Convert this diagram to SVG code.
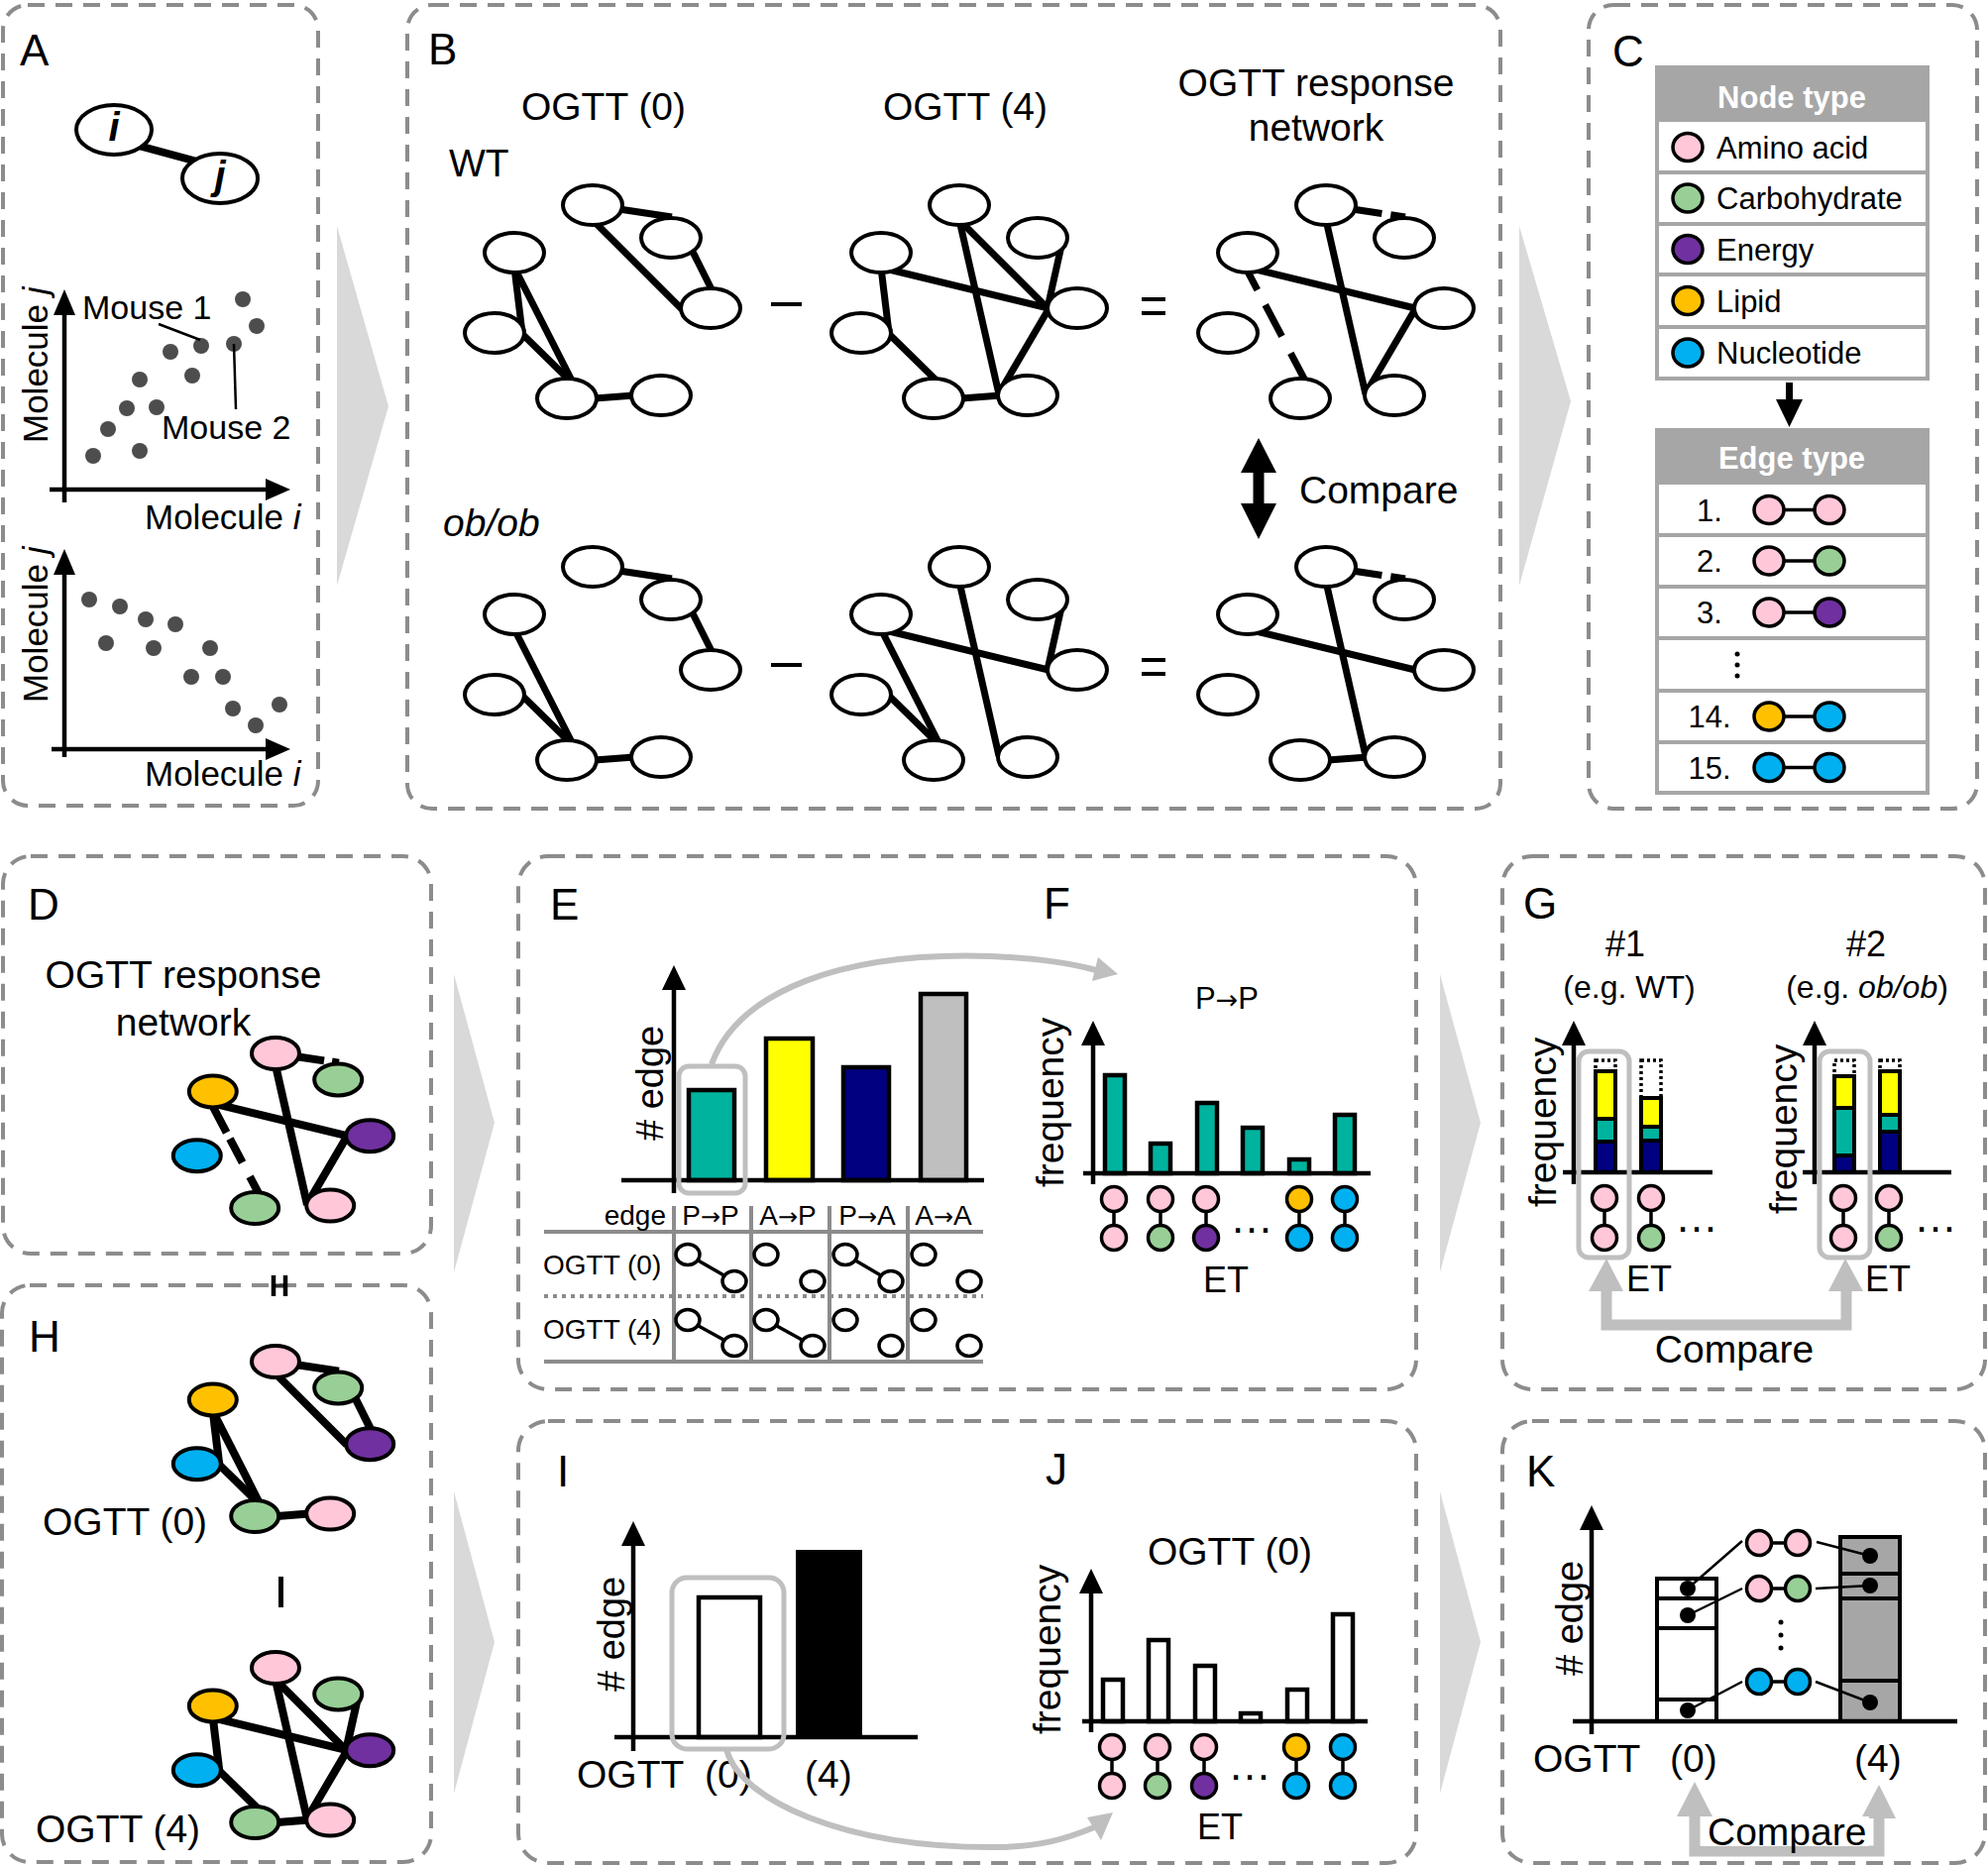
<svg xmlns="http://www.w3.org/2000/svg" width="2006" height="1882" viewBox="0 0 2006 1882">
<style>
.t{font-family:'Liberation Sans',Arial,Helvetica,sans-serif;fill:#000}
.ar{font-family:'DejaVu Sans','Liberation Sans',sans-serif}
.L{font-size:44px}
.M{font-size:39px}
.S{font-size:31px}
.X{font-size:28px}
.it{font-style:italic}
.bx{fill:none;stroke:#8c8c8c;stroke-width:4;stroke-dasharray:17 11}
.chev{fill:#d9d9d9}
.nd{fill:#fff;stroke:#000;stroke-width:4}
.n5{stroke:#000;stroke-width:5}
.e{fill:none;stroke:#000;stroke-width:7}
.e10{fill:none;stroke:#000;stroke-width:10}
.ax{fill:none;stroke:#000;stroke-width:4.5}
.hl{fill:none;stroke:#bfbfbf;stroke-width:5}
.c{stroke:#000;stroke-width:3.5}
.pk{fill:#ffc7d8}.gr{fill:#98cf96}.pu{fill:#7030a0}.ye{fill:#ffc000}.bl{fill:#00b0f0}.wh{fill:#fff}
.bar{stroke:#000;stroke-width:4.5}
.seg{stroke:#000;stroke-width:4}
.dt{fill:none;stroke:#000;stroke-width:3.5;stroke-dasharray:3 3}
.dot{fill:#4d4d4d}
.gl{fill:none;stroke:#8c8c8c;stroke-width:4}
.thin{stroke:#000;stroke-width:2.5}
.garr{fill:none;stroke:#bfbfbf;stroke-width:11}
</style>

<!-- ===== panel frames and chevrons ===== -->
<g id="frames">
<rect class="bx" x="3" y="5" width="318" height="808" rx="25"/>
<rect class="bx" x="411" y="5" width="1103" height="811" rx="25"/>
<rect class="bx" x="1603" y="5" width="392" height="811" rx="25"/>
<rect class="bx" x="3" y="864" width="432" height="401" rx="28"/>
<rect class="bx" x="2" y="1297" width="433" height="582" rx="28"/>
<rect class="bx" x="523" y="864" width="906" height="538" rx="30"/>
<rect class="bx" x="1516" y="864" width="487" height="538" rx="30"/>
<rect class="bx" x="523" y="1434" width="906" height="446" rx="30"/>
<rect class="bx" x="1516" y="1434" width="487" height="446" rx="30"/>
<polygon class="chev" points="340,228 392,410 340,591"/>
<polygon class="chev" points="1533,228 1585,405 1533,591"/>
<polygon class="chev" points="458,983 499,1133 458,1284"/>
<polygon class="chev" points="1453,983 1494,1133 1453,1284"/>
<polygon class="chev" points="458,1505 499,1657 458,1810"/>
<polygon class="chev" points="1453,1505 1494,1657 1453,1810"/>
</g>

<!-- ===== panel labels ===== -->
<g id="panel-labels" class="t L">
<text x="20" y="66">A</text>
<text x="432" y="65">B</text>
<text x="1627" y="67">C</text>
<text x="28" y="928">D</text>
<text x="555" y="928">E</text>
<text x="1053" y="927">F</text>
<text x="1537" y="927">G</text>
<text x="29" y="1364">H</text>
<text x="562" y="1500">I</text>
<text x="1055" y="1498">J</text>
<text x="1540" y="1500">K</text>
</g>

<!-- ===== Panel A ===== -->
<g id="panel-A-content">
<line class="ax" x1="65" y1="507" x2="65" y2="312"/>
<polygon points="65,292 54,318 76,318"/>
<line class="ax" x1="50" y1="494" x2="272" y2="494"/>
<polygon points="293,494 268,483 268,505"/>
<line class="ax" x1="65" y1="764" x2="65" y2="574"/>
<polygon points="65,554 54,580 76,580"/>
<line class="ax" x1="52" y1="756" x2="272" y2="756"/>
<polygon points="293,756 268,745 268,767"/>
<g class="dot">
<circle cx="245" cy="302" r="8"/><circle cx="259" cy="329" r="8"/><circle cx="203" cy="349" r="8"/><circle cx="236" cy="347" r="8"/>
<circle cx="172" cy="355" r="8"/><circle cx="194" cy="379" r="8"/><circle cx="141" cy="383" r="8"/><circle cx="128" cy="412" r="8"/>
<circle cx="158" cy="411" r="8"/><circle cx="109" cy="433" r="8"/><circle cx="141" cy="455" r="8"/><circle cx="94" cy="460" r="8"/>
<circle cx="90" cy="605" r="8"/><circle cx="121" cy="612" r="8"/><circle cx="147" cy="625" r="8"/><circle cx="177" cy="630" r="8"/>
<circle cx="107" cy="649" r="8"/><circle cx="155" cy="654" r="8"/><circle cx="212" cy="654" r="8"/><circle cx="193" cy="683" r="8"/>
<circle cx="225" cy="683" r="8"/><circle cx="235" cy="715" r="8"/><circle cx="282" cy="711" r="8"/><circle cx="258" cy="732" r="8"/>
</g>
<text class="t" font-size="34" x="83" y="322">Mouse 1</text>
<text class="t" font-size="34" x="163" y="443">Mouse 2</text>
<text class="t" font-size="35" x="146" y="534">Molecule <tspan class="it">i</tspan></text>
<text class="t" font-size="35" x="146" y="793">Molecule <tspan class="it">i</tspan></text>
<text class="t" font-size="35" transform="translate(48,447) rotate(-90)">Molecule <tspan class="it">j</tspan></text>
<text class="t" font-size="35" transform="translate(48,709) rotate(-90)">Molecule <tspan class="it">j</tspan></text>
</g>

<!-- ===== Panel B texts ===== -->
<g id="panel-B-content" class="t M">
<text x="609" y="121" text-anchor="middle">OGTT (0)</text>
<text x="974" y="121" text-anchor="middle">OGTT (4)</text>
<text x="1328" y="97" text-anchor="middle">OGTT response</text>
<text x="1328" y="142" text-anchor="middle">network</text>
<text x="453" y="178">WT</text>
<text x="447" y="541" class="it">ob/ob</text>
<text x="1311" y="508">Compare</text>
<g stroke="#000" stroke-width="4">
<line x1="778" y1="307" x2="809" y2="307"/>
<line x1="778" y1="671" x2="809" y2="671"/>
<line x1="1152" y1="302" x2="1176" y2="302"/>
<line x1="1152" y1="316" x2="1176" y2="316"/>
<line x1="1152" y1="666" x2="1176" y2="666"/>
<line x1="1152" y1="680" x2="1176" y2="680"/>
</g>
<polygon points="1270,442 1288,477 1275.5,477 1275.5,508 1288,508 1270,544 1252,508 1264.5,508 1264.5,477 1252,477"/>
</g>

<!-- ===== Panel C ===== -->
<g id="panel-C-content">
<g id="node-type-table">
<rect x="1670" y="66" width="277" height="57" fill="#a6a6a6"/>
<rect x="1672" y="68" width="273" height="314" fill="none" stroke="#a6a6a6" stroke-width="4"/>
<g stroke="#a6a6a6" stroke-width="4">
<line x1="1672" y1="174" x2="1945" y2="174"/><line x1="1672" y1="226" x2="1945" y2="226"/>
<line x1="1672" y1="277" x2="1945" y2="277"/><line x1="1672" y1="330" x2="1945" y2="330"/>
</g>
<text class="t" font-size="31" font-weight="bold" style="fill:#fff" x="1808" y="109" text-anchor="middle">Node type</text>
<ellipse class="c pk" cx="1703" cy="148.5" rx="15" ry="14"/>
<ellipse class="c gr" cx="1703" cy="200" rx="15" ry="14"/>
<ellipse class="c pu" cx="1703" cy="251.5" rx="15" ry="14"/>
<ellipse class="c ye" cx="1703" cy="303.5" rx="15" ry="14"/>
<ellipse class="c bl" cx="1703" cy="356" rx="15" ry="14"/>
<g class="t S">
<text x="1732" y="160">Amino acid</text>
<text x="1732" y="211">Carbohydrate</text>
<text x="1732" y="263">Energy</text>
<text x="1732" y="315">Lipid</text>
<text x="1732" y="367">Nucleotide</text>
</g>
</g>
<rect x="1802" y="386" width="7" height="19"/>
<polygon points="1792,403 1819,403 1805.5,431"/>
<g id="edge-type-table">
<rect x="1670" y="432" width="277" height="57" fill="#a6a6a6"/>
<rect x="1672" y="434" width="273" height="366" fill="none" stroke="#a6a6a6" stroke-width="4"/>
<g stroke="#a6a6a6" stroke-width="4">
<line x1="1672" y1="540" x2="1945" y2="540"/><line x1="1672" y1="592" x2="1945" y2="592"/>
<line x1="1672" y1="644" x2="1945" y2="644"/><line x1="1672" y1="697" x2="1945" y2="697"/>
<line x1="1672" y1="749" x2="1945" y2="749"/>
</g>
<text class="t" font-size="31" font-weight="bold" style="fill:#fff" x="1808" y="473" text-anchor="middle">Edge type</text>
<g class="t S" text-anchor="middle">
<text x="1725" y="526">1.</text><text x="1725" y="577">2.</text><text x="1725" y="629">3.</text>
<text x="1725" y="734">14.</text><text x="1725" y="786">15.</text>
</g>
<g stroke="#000" stroke-width="3.5">
<line x1="1800" y1="514.5" x2="1831" y2="514.5"/><line x1="1800" y1="566" x2="1831" y2="566"/>
<line x1="1800" y1="618" x2="1831" y2="618"/><line x1="1800" y1="723" x2="1831" y2="723"/>
<line x1="1800" y1="774.5" x2="1831" y2="774.5"/>
</g>
<ellipse class="c pk" cx="1785" cy="514.5" rx="15" ry="14"/><ellipse class="c pk" cx="1846" cy="514.5" rx="15" ry="14"/>
<ellipse class="c pk" cx="1785" cy="566" rx="15" ry="14"/><ellipse class="c gr" cx="1846" cy="566" rx="15" ry="14"/>
<ellipse class="c pk" cx="1785" cy="618" rx="15" ry="14"/><ellipse class="c pu" cx="1846" cy="618" rx="15" ry="14"/>
<ellipse class="c ye" cx="1785" cy="723" rx="15" ry="14"/><ellipse class="c bl" cx="1846" cy="723" rx="15" ry="14"/>
<ellipse class="c bl" cx="1785" cy="774.5" rx="15" ry="14"/><ellipse class="c bl" cx="1846" cy="774.5" rx="15" ry="14"/>
<circle cx="1753" cy="660" r="2.5"/><circle cx="1753" cy="671" r="2.5"/><circle cx="1753" cy="682" r="2.5"/>
</g>
</g>

<!-- ===== Panel D / H texts ===== -->
<g id="panel-DH-content" class="t M">
<text x="185" y="997" text-anchor="middle">OGTT response</text>
<text x="185" y="1045" text-anchor="middle">network</text>
<text x="43" y="1549">OGTT (0)</text>
<text x="36" y="1859">OGTT (4)</text>
<line x1="274" y1="1297.5" x2="290" y2="1297.5" stroke="#333" stroke-width="4"/>
<g stroke="#000" stroke-width="4.5">
<line x1="276" y1="1287" x2="276" y2="1308"/>
<line x1="288" y1="1287" x2="288" y2="1308"/>
<line x1="283.5" y1="1591" x2="283.5" y2="1622" stroke-width="5"/>
</g>
</g>

<!-- ===== Panel E ===== -->
<g id="panel-E-content">
<line class="ax" x1="680" y1="1204" x2="680" y2="995"/>
<polygon points="680,974 668,999 692,999"/>
<rect class="bar" x="695" y="1100" width="46" height="91" fill="#00b39f"/>
<rect class="bar" x="773" y="1048" width="47" height="143" fill="#ffff00"/>
<rect class="bar" x="851" y="1077" width="46" height="114" fill="#000080"/>
<rect class="bar" x="929" y="1003" width="46" height="188" fill="#bfbfbf"/>
<line class="ax" x1="627" y1="1191" x2="993" y2="1191"/>
<rect class="hl" x="685" y="1076" width="67" height="128" rx="10"/>
<text class="t" font-size="38" transform="translate(669,1151) rotate(-90)"># edge</text>
<line class="gl" x1="549" y1="1243" x2="992" y2="1243"/>
<line class="gl" x1="549" y1="1374" x2="992" y2="1374"/>
<line x1="549" y1="1308" x2="992" y2="1308" stroke="#8c8c8c" stroke-width="4" stroke-dasharray="4 5"/>
<line class="gl" x1="680" y1="1217" x2="680" y2="1374"/>
<line class="gl" x1="758" y1="1217" x2="758" y2="1374"/>
<line class="gl" x1="837" y1="1217" x2="837" y2="1374"/>
<line class="gl" x1="916" y1="1217" x2="916" y2="1374"/>
<g class="t X">
<text x="672" y="1236" text-anchor="end">edge</text>
<text x="717" y="1236" text-anchor="middle">P<tspan class="ar" font-size="24">→</tspan>P</text>
<text x="795" y="1236" text-anchor="middle">A<tspan class="ar" font-size="24">→</tspan>P</text>
<text x="875" y="1236" text-anchor="middle">P<tspan class="ar" font-size="24">→</tspan>A</text>
<text x="952" y="1236" text-anchor="middle">A<tspan class="ar" font-size="24">→</tspan>A</text>
<text x="548" y="1286">OGTT (0)</text>
<text x="548" y="1351">OGTT (4)</text>
</g>
<g stroke="#000" stroke-width="3.5">
<line x1="694" y1="1266" x2="741" y2="1293"/>
<line x1="853" y1="1266" x2="899" y2="1293"/>
<line x1="694" y1="1332" x2="741" y2="1358"/>
<line x1="773" y1="1332" x2="820" y2="1358"/>
</g>
<g fill="#fff" stroke="#000" stroke-width="3.5">
<ellipse cx="694" cy="1266" rx="12" ry="10.5"/><ellipse cx="741" cy="1293" rx="12" ry="10.5"/>
<ellipse cx="773" cy="1266" rx="12" ry="10.5"/><ellipse cx="820" cy="1293" rx="12" ry="10.5"/>
<ellipse cx="853" cy="1266" rx="12" ry="10.5"/><ellipse cx="899" cy="1293" rx="12" ry="10.5"/>
<ellipse cx="932" cy="1266" rx="12" ry="10.5"/><ellipse cx="978" cy="1293" rx="12" ry="10.5"/>
<ellipse cx="694" cy="1332" rx="12" ry="10.5"/><ellipse cx="741" cy="1358" rx="12" ry="10.5"/>
<ellipse cx="773" cy="1332" rx="12" ry="10.5"/><ellipse cx="820" cy="1358" rx="12" ry="10.5"/>
<ellipse cx="853" cy="1332" rx="12" ry="10.5"/><ellipse cx="899" cy="1358" rx="12" ry="10.5"/>
<ellipse cx="932" cy="1332" rx="12" ry="10.5"/><ellipse cx="978" cy="1358" rx="12" ry="10.5"/>
</g>
</g>

<!-- ===== Panel F ===== -->
<g id="panel-F-content">
<text class="t S" x="1238" y="1018" text-anchor="middle">P<tspan class="ar" font-size="27">→</tspan>P</text>
<line class="ax" x1="1103" y1="1195" x2="1103" y2="1050"/>
<polygon points="1103,1030 1091,1055 1115,1055"/>
<g class="bar" fill="#00b39f">
<rect x="1115" y="1085" width="20" height="99"/>
<rect x="1161" y="1154" width="20" height="30"/>
<rect x="1208" y="1113" width="20" height="71"/>
<rect x="1254" y="1138" width="20" height="46"/>
<rect x="1301" y="1170" width="20" height="14"/>
<rect x="1347" y="1125" width="20" height="59"/>
</g>
<line class="ax" x1="1093" y1="1184" x2="1383" y2="1184"/>
<g stroke="#000" stroke-width="3.5">
<line x1="1124" y1="1210" x2="1124" y2="1249"/><line x1="1171" y1="1210" x2="1171" y2="1249"/>
<line x1="1217" y1="1210" x2="1217" y2="1249"/><line x1="1311" y1="1210" x2="1311" y2="1249"/>
<line x1="1357" y1="1210" x2="1357" y2="1249"/>
</g>
<circle class="c pk" cx="1124" cy="1210" r="12.5"/><circle class="c pk" cx="1124" cy="1249" r="12.5"/>
<circle class="c pk" cx="1171" cy="1210" r="12.5"/><circle class="c gr" cx="1171" cy="1249" r="12.5"/>
<circle class="c pk" cx="1217" cy="1210" r="12.5"/><circle class="c pu" cx="1217" cy="1249" r="12.5"/>
<circle class="c ye" cx="1311" cy="1210" r="12.5"/><circle class="c bl" cx="1311" cy="1249" r="12.5"/>
<circle class="c bl" cx="1357" cy="1210" r="12.5"/><circle class="c bl" cx="1357" cy="1249" r="12.5"/>
<text class="t" font-size="44" x="1263" y="1244" text-anchor="middle">…</text>
<text class="t" font-size="36" x="1237" y="1304" text-anchor="middle">ET</text>
<text class="t M" transform="translate(1073,1198) rotate(-90)">frequency</text>
</g>

<!-- ===== Panel G ===== -->
<g id="panel-G-content">
<g class="t" font-size="36" text-anchor="middle">
<text x="1640" y="965">#1</text>
<text x="1883" y="965">#2</text>
</g>
<g class="t" font-size="32" text-anchor="middle">
<text x="1644" y="1007">(e.g. WT)</text>
<text x="1884" y="1007">(e.g. <tspan class="it">ob/ob</tspan>)</text>
</g>
<line class="ax" x1="1588" y1="1195" x2="1588" y2="1050"/>
<polygon points="1588,1030 1576,1055 1600,1055"/>
<line class="ax" x1="1831" y1="1195" x2="1831" y2="1050"/>
<polygon points="1831,1030 1819,1055 1843,1055"/>
<g class="seg">
<rect x="1610" y="1152" width="20" height="31" fill="#000080"/>
<rect x="1610" y="1129" width="20" height="23" fill="#00b39f"/>
<rect x="1610" y="1081" width="20" height="48" fill="#ffff00"/>
<rect x="1656" y="1151" width="20" height="32" fill="#000080"/>
<rect x="1656" y="1137" width="20" height="14" fill="#00b39f"/>
<rect x="1656" y="1108" width="20" height="29" fill="#ffff00"/>
<rect x="1851" y="1166" width="20" height="17" fill="#000080"/>
<rect x="1851" y="1118" width="20" height="48" fill="#00b39f"/>
<rect x="1851" y="1086" width="20" height="32" fill="#ffff00"/>
<rect x="1897" y="1142" width="20" height="41" fill="#000080"/>
<rect x="1897" y="1125" width="20" height="17" fill="#00b39f"/>
<rect x="1897" y="1081" width="20" height="44" fill="#ffff00"/>
</g>
<rect class="dt" x="1610" y="1070" width="20" height="11"/>
<rect class="dt" x="1656" y="1070" width="20" height="38"/>
<rect class="dt" x="1851" y="1070" width="20" height="16"/>
<rect class="dt" x="1897" y="1070" width="20" height="11"/>
<line class="ax" x1="1577" y1="1183" x2="1728" y2="1183"/>
<line class="ax" x1="1819" y1="1183" x2="1969" y2="1183"/>
<rect class="hl" x="1593" y="1061" width="51" height="208" rx="10"/>
<rect class="hl" x="1836" y="1061" width="51" height="208" rx="10"/>
<g stroke="#000" stroke-width="3.5">
<line x1="1619" y1="1209" x2="1619" y2="1249"/><line x1="1666" y1="1209" x2="1666" y2="1249"/>
<line x1="1860" y1="1209" x2="1860" y2="1249"/><line x1="1906" y1="1209" x2="1906" y2="1249"/>
</g>
<circle class="c pk" cx="1619" cy="1209" r="12.5"/><circle class="c pk" cx="1619" cy="1249" r="12.5"/>
<circle class="c pk" cx="1666" cy="1209" r="12.5"/><circle class="c gr" cx="1666" cy="1249" r="12.5"/>
<circle class="c pk" cx="1860" cy="1209" r="12.5"/><circle class="c pk" cx="1860" cy="1249" r="12.5"/>
<circle class="c pk" cx="1906" cy="1209" r="12.5"/><circle class="c gr" cx="1906" cy="1249" r="12.5"/>
<text class="t" font-size="44" x="1712" y="1243" text-anchor="middle">…</text>
<text class="t" font-size="44" x="1953" y="1243" text-anchor="middle">…</text>
<text class="t" font-size="36" x="1641" y="1303">ET</text>
<text class="t" font-size="36" x="1882" y="1303">ET</text>
<text class="t M" transform="translate(1570,1218) rotate(-90)">frequency</text>
<text class="t M" transform="translate(1813,1225) rotate(-90)">frequency</text>
<text class="t M" x="1750" y="1375" text-anchor="middle">Compare</text>
</g>

<!-- ===== Panel I ===== -->
<g id="panel-I-content">
<line class="ax" x1="639" y1="1767" x2="639" y2="1556"/>
<polygon points="639,1535 627,1560 651,1560"/>
<rect class="bar" x="705" y="1612" width="62" height="141" fill="#fff"/>
<rect x="803" y="1564" width="67" height="189" fill="#000"/>
<line class="ax" x1="620" y1="1753" x2="926" y2="1753"/>
<rect class="hl" x="678" y="1592" width="113" height="173" rx="15"/>
<text class="t" font-size="38" transform="translate(630,1707) rotate(-90)"># edge</text>
<g class="t M">
<text x="582" y="1804">OGTT</text>
<text x="711" y="1804">(0)</text>
<text x="812" y="1804">(4)</text>
</g>
</g>

<!-- ===== Panel J ===== -->
<g id="panel-J-content">
<text class="t M" x="1241" y="1579" text-anchor="middle">OGTT (0)</text>
<line class="ax" x1="1101" y1="1748" x2="1101" y2="1604"/>
<polygon points="1101,1583 1089,1608 1113,1608"/>
<g class="bar" fill="#fff">
<rect x="1113" y="1695" width="20" height="42"/>
<rect x="1159" y="1655" width="20" height="82"/>
<rect x="1206" y="1681" width="20" height="56"/>
<rect x="1252" y="1729" width="20" height="8"/>
<rect x="1299" y="1705" width="20" height="32"/>
<rect x="1345" y="1629" width="20" height="108"/>
</g>
<line class="ax" x1="1092" y1="1737" x2="1380" y2="1737"/>
<g stroke="#000" stroke-width="3.5">
<line x1="1122" y1="1763" x2="1122" y2="1802"/><line x1="1168" y1="1763" x2="1168" y2="1802"/>
<line x1="1215" y1="1763" x2="1215" y2="1802"/><line x1="1308" y1="1763" x2="1308" y2="1802"/>
<line x1="1355" y1="1763" x2="1355" y2="1802"/>
</g>
<circle class="c pk" cx="1122" cy="1763" r="12.5"/><circle class="c pk" cx="1122" cy="1802" r="12.5"/>
<circle class="c pk" cx="1168" cy="1763" r="12.5"/><circle class="c gr" cx="1168" cy="1802" r="12.5"/>
<circle class="c pk" cx="1215" cy="1763" r="12.5"/><circle class="c pu" cx="1215" cy="1802" r="12.5"/>
<circle class="c ye" cx="1308" cy="1763" r="12.5"/><circle class="c bl" cx="1308" cy="1802" r="12.5"/>
<circle class="c bl" cx="1355" cy="1763" r="12.5"/><circle class="c bl" cx="1355" cy="1802" r="12.5"/>
<text class="t" font-size="44" x="1261" y="1796" text-anchor="middle">…</text>
<text class="t" font-size="36" x="1231" y="1856" text-anchor="middle">ET</text>
<text class="t M" transform="translate(1070,1750) rotate(-90)">frequency</text>
</g>

<!-- ===== Panel K ===== -->
<g id="panel-K-content">
<line class="ax" x1="1606" y1="1750" x2="1606" y2="1540"/>
<polygon points="1606,1519 1594,1544 1618,1544"/>
<rect x="1672" y="1593" width="60" height="144" fill="#fff" stroke="#000" stroke-width="4"/>
<rect x="1857" y="1551" width="60" height="186" fill="#a6a6a6" stroke="#000" stroke-width="4"/>
<g stroke="#000" stroke-width="4">
<line x1="1672" y1="1613" x2="1732" y2="1613"/><line x1="1672" y1="1643" x2="1732" y2="1643"/>
<line x1="1672" y1="1715" x2="1732" y2="1715"/>
<line x1="1857" y1="1588" x2="1917" y2="1588"/><line x1="1857" y1="1613" x2="1917" y2="1613"/>
<line x1="1857" y1="1696" x2="1917" y2="1696"/>
</g>
<line class="ax" x1="1587" y1="1737" x2="1975" y2="1737"/>
<text class="t" font-size="38" transform="translate(1597,1691) rotate(-90)"># edge</text>
<g class="t M">
<text x="1547" y="1788">OGTT</text>
<text x="1685" y="1788">(0)</text>
<text x="1871" y="1788">(4)</text>
</g>
<g stroke="#000" stroke-width="3.5">
<line x1="1775" y1="1557" x2="1814" y2="1557"/><line x1="1775" y1="1603" x2="1814" y2="1603"/>
<line x1="1775" y1="1697" x2="1814" y2="1697"/>
</g>
<circle class="c pk" cx="1775" cy="1557" r="12.5"/><circle class="c pk" cx="1814" cy="1557" r="12.5"/>
<circle class="c pk" cx="1775" cy="1603" r="12.5"/><circle class="c gr" cx="1814" cy="1603" r="12.5"/>
<circle class="c bl" cx="1775" cy="1697" r="12.5"/><circle class="c bl" cx="1814" cy="1697" r="12.5"/>
<circle cx="1797" cy="1637" r="2.5"/><circle cx="1797" cy="1650" r="2.5"/><circle cx="1797" cy="1663" r="2.5"/>
</g>

<!-- ===== Connectors ===== -->
<g id="connectors">
<!-- panel A -->
<line x1="125" y1="143" x2="210" y2="166" stroke="#000" stroke-width="8"/>
<line class="thin" x1="160" y1="327" x2="202" y2="343" stroke-width="2"/>
<line class="thin" x1="236" y1="347" x2="238" y2="413" stroke-width="2"/>
<!-- panel B networks -->
<g id="edges-B-wt0" class="e">
<path d="M598,207 L678,219"/><path d="M598,222 L688,312"/><path d="M698,252 L720,296"/>
<path d="M519,270 L527,336"/><path d="M519,270 L578,386"/><path d="M527,337 L577,386"/><path d="M600,402 L640,399"/>
</g>
<g id="edges-B-wt4" class="e" transform="translate(370,0)">
<path d="M519,270 L527,336"/><path d="M527,337 L577,386"/><path d="M519,270 L688,311"/>
<path d="M598,222 L638,398"/><path d="M598,222 L688,312"/><path d="M701,248 L687,311"/>
<path d="M688,312 L641,392"/><path d="M600,402 L640,399"/>
</g>
<g id="edges-B-wtr" class="e" transform="translate(740,0)">
<path d="M598,207 L678,219" stroke-dasharray="57 9 40"/>
<path d="M519,270 L688,311"/>
<path d="M519,274 L578,386" stroke-dasharray="21 17 36 19 60"/>
<path d="M598,222 L638,398"/><path d="M688,312 L641,392"/>
</g>
<g id="edges-B-ob0" class="e" transform="translate(0,365)">
<path d="M598,207 L678,219"/><path d="M698,252 L720,296"/><path d="M519,270 L578,386"/>
<path d="M527,337 L577,386"/><path d="M600,402 L640,399"/>
</g>
<g id="edges-B-ob4" class="e" transform="translate(370,365)">
<path d="M519,270 L688,311"/><path d="M519,270 L578,386"/><path d="M527,337 L577,386"/>
<path d="M598,222 L638,398"/><path d="M701,248 L687,311"/>
</g>
<g id="edges-B-obr" class="e" transform="translate(740,365)">
<path d="M598,207 L678,219" stroke-dasharray="57 9 40"/>
<path d="M519,270 L688,311"/><path d="M598,222 L638,398"/><path d="M600,402 L640,399"/>
</g>
<!-- panel D network -->
<g id="edges-D" class="e10" transform="translate(-200.4,897.4) scale(0.8)">
<path d="M598,207 L678,219" stroke-dasharray="62 10 40"/>
<path d="M519,270 L688,311"/>
<path d="M519,274 L578,386" stroke-dasharray="37 9 34 20 60"/>
<path d="M598,222 L638,398"/><path d="M688,312 L641,392"/>
</g>
<!-- panel H networks -->
<g id="edges-H0" class="e10" transform="translate(-200.4,1208.4) scale(0.8)">
<path d="M598,207 L678,219"/><path d="M598,222 L688,312"/><path d="M698,252 L720,296"/>
<path d="M519,270 L527,336"/><path d="M519,270 L578,386"/><path d="M527,337 L577,386"/><path d="M600,402 L640,399"/>
</g>
<g id="edges-H4" class="e10" transform="translate(-200.4,1517.4) scale(0.8)">
<path d="M519,270 L527,336"/><path d="M527,337 L577,386"/><path d="M519,270 L688,311"/>
<path d="M598,222 L638,398"/><path d="M598,222 L688,312"/><path d="M701,248 L687,311"/>
<path d="M688,312 L641,392"/><path d="M600,402 L640,399"/>
</g>
<!-- E to F curved arrow -->
<path d="M718,1074 C745,1000 850,960 1000,965 C1050,967 1080,972 1106,979" fill="none" stroke="#bfbfbf" stroke-width="6"/>
<polygon points="1128,983 1102,990 1108,966" fill="#bfbfbf"/>
<!-- I to J curved arrow -->
<path d="M733,1765 C745,1815 850,1866 1010,1864 C1050,1863 1075,1856 1104,1844" fill="none" stroke="#bfbfbf" stroke-width="6"/>
<polygon points="1123,1829 1097,1834 1111,1857" fill="#bfbfbf"/>
<!-- G compare -->
<path class="garr" d="M1621,1300 V1337 H1863 V1300"/>
<polygon points="1603,1303 1621,1270 1638,1303" fill="#bfbfbf"/>
<polygon points="1845,1303 1862,1270 1880,1303" fill="#bfbfbf"/>
<!-- K compare -->
<path class="garr" d="M1710,1830 V1868 H1896 V1832"/>
<polygon points="1692,1833 1710,1798 1728,1833" fill="#bfbfbf"/>
<polygon points="1878,1835 1896,1801 1913,1835" fill="#bfbfbf"/>
<!-- K leader lines -->
<g class="thin">
<line x1="1703" y1="1603" x2="1758" y2="1555"/>
<line x1="1703" y1="1630" x2="1758" y2="1603"/>
<line x1="1703" y1="1726" x2="1758" y2="1697"/>
<line x1="1833" y1="1556" x2="1887" y2="1570"/>
<line x1="1832" y1="1603" x2="1887" y2="1600"/>
<line x1="1832" y1="1697" x2="1887" y2="1718"/>
</g>
<g fill="#000">
<circle cx="1703" cy="1603" r="8"/><circle cx="1703" cy="1630" r="8"/><circle cx="1703" cy="1726" r="8"/>
<circle cx="1887" cy="1570" r="8"/><circle cx="1887" cy="1600" r="8"/><circle cx="1887" cy="1718" r="8"/>
</g>
</g>

<!-- K compare label -->
<rect x="1716" y="1833" width="170" height="30" fill="#fff"/>
<text class="t M" x="1723" y="1862">Compare</text>

<!-- ===== Nodes ===== -->
<g id="nodes">
<g id="node-i"><ellipse class="nd" cx="115" cy="131" rx="38" ry="25"/><text class="t" font-size="40" font-weight="bold" font-style="italic" x="115" y="142" text-anchor="middle">i</text></g>
<g id="node-j"><ellipse class="nd" cx="222" cy="180" rx="38" ry="25"/><text class="t" font-size="40" font-weight="bold" font-style="italic" x="222" y="191" text-anchor="middle">j</text></g>

<g id="nodes-B-wt0">
<g id="b-wt0-1"><ellipse class="nd" cx="598" cy="207" rx="30" ry="20"/></g>
<g id="b-wt0-2"><ellipse class="nd" cx="677" cy="240" rx="30" ry="20"/></g>
<g id="b-wt0-3"><ellipse class="nd" cx="519" cy="255" rx="30" ry="20"/></g>
<g id="b-wt0-4"><ellipse class="nd" cx="717" cy="311" rx="30" ry="20"/></g>
<g id="b-wt0-5"><ellipse class="nd" cx="499" cy="336" rx="30" ry="20"/></g>
<g id="b-wt0-6"><ellipse class="nd" cx="572" cy="402" rx="30" ry="20"/></g>
<g id="b-wt0-7"><ellipse class="nd" cx="667" cy="399" rx="30" ry="20"/></g>
</g>
<g id="nodes-B-wt4" transform="translate(370,0)">
<g id="b-wt4-1"><ellipse class="nd" cx="598" cy="207" rx="30" ry="20"/></g>
<g id="b-wt4-2"><ellipse class="nd" cx="677" cy="240" rx="30" ry="20"/></g>
<g id="b-wt4-3"><ellipse class="nd" cx="519" cy="255" rx="30" ry="20"/></g>
<g id="b-wt4-4"><ellipse class="nd" cx="717" cy="311" rx="30" ry="20"/></g>
<g id="b-wt4-5"><ellipse class="nd" cx="499" cy="336" rx="30" ry="20"/></g>
<g id="b-wt4-6"><ellipse class="nd" cx="572" cy="402" rx="30" ry="20"/></g>
<g id="b-wt4-7"><ellipse class="nd" cx="667" cy="399" rx="30" ry="20"/></g>
</g>
<g id="nodes-B-wtr" transform="translate(740,0)">
<g id="b-wtr-1"><ellipse class="nd" cx="598" cy="207" rx="30" ry="20"/></g>
<g id="b-wtr-2"><ellipse class="nd" cx="677" cy="240" rx="30" ry="20"/></g>
<g id="b-wtr-3"><ellipse class="nd" cx="519" cy="255" rx="30" ry="20"/></g>
<g id="b-wtr-4"><ellipse class="nd" cx="717" cy="311" rx="30" ry="20"/></g>
<g id="b-wtr-5"><ellipse class="nd" cx="499" cy="336" rx="30" ry="20"/></g>
<g id="b-wtr-6"><ellipse class="nd" cx="572" cy="402" rx="30" ry="20"/></g>
<g id="b-wtr-7"><ellipse class="nd" cx="667" cy="399" rx="30" ry="20"/></g>
</g>
<g id="nodes-B-ob0" transform="translate(0,365)">
<g id="b-ob0-1"><ellipse class="nd" cx="598" cy="207" rx="30" ry="20"/></g>
<g id="b-ob0-2"><ellipse class="nd" cx="677" cy="240" rx="30" ry="20"/></g>
<g id="b-ob0-3"><ellipse class="nd" cx="519" cy="255" rx="30" ry="20"/></g>
<g id="b-ob0-4"><ellipse class="nd" cx="717" cy="311" rx="30" ry="20"/></g>
<g id="b-ob0-5"><ellipse class="nd" cx="499" cy="336" rx="30" ry="20"/></g>
<g id="b-ob0-6"><ellipse class="nd" cx="572" cy="402" rx="30" ry="20"/></g>
<g id="b-ob0-7"><ellipse class="nd" cx="667" cy="399" rx="30" ry="20"/></g>
</g>
<g id="nodes-B-ob4" transform="translate(370,365)">
<g id="b-ob4-1"><ellipse class="nd" cx="598" cy="207" rx="30" ry="20"/></g>
<g id="b-ob4-2"><ellipse class="nd" cx="677" cy="240" rx="30" ry="20"/></g>
<g id="b-ob4-3"><ellipse class="nd" cx="519" cy="255" rx="30" ry="20"/></g>
<g id="b-ob4-4"><ellipse class="nd" cx="717" cy="311" rx="30" ry="20"/></g>
<g id="b-ob4-5"><ellipse class="nd" cx="499" cy="336" rx="30" ry="20"/></g>
<g id="b-ob4-6"><ellipse class="nd" cx="572" cy="402" rx="30" ry="20"/></g>
<g id="b-ob4-7"><ellipse class="nd" cx="667" cy="399" rx="30" ry="20"/></g>
</g>
<g id="nodes-B-obr" transform="translate(740,365)">
<g id="b-obr-1"><ellipse class="nd" cx="598" cy="207" rx="30" ry="20"/></g>
<g id="b-obr-2"><ellipse class="nd" cx="677" cy="240" rx="30" ry="20"/></g>
<g id="b-obr-3"><ellipse class="nd" cx="519" cy="255" rx="30" ry="20"/></g>
<g id="b-obr-4"><ellipse class="nd" cx="717" cy="311" rx="30" ry="20"/></g>
<g id="b-obr-5"><ellipse class="nd" cx="499" cy="336" rx="30" ry="20"/></g>
<g id="b-obr-6"><ellipse class="nd" cx="572" cy="402" rx="30" ry="20"/></g>
<g id="b-obr-7"><ellipse class="nd" cx="667" cy="399" rx="30" ry="20"/></g>
</g>

<g id="nodes-D" transform="translate(-200.4,897.4) scale(0.8)">
<g id="d-1"><ellipse class="n5 pk" cx="598" cy="207" rx="30" ry="20"/></g>
<g id="d-2"><ellipse class="n5 gr" cx="677" cy="240" rx="30" ry="20"/></g>
<g id="d-3"><ellipse class="n5 ye" cx="519" cy="255" rx="30" ry="20"/></g>
<g id="d-4"><ellipse class="n5 pu" cx="717" cy="311" rx="30" ry="20"/></g>
<g id="d-5"><ellipse class="n5 bl" cx="499" cy="336" rx="30" ry="20"/></g>
<g id="d-6"><ellipse class="n5 gr" cx="572" cy="402" rx="30" ry="20"/></g>
<g id="d-7"><ellipse class="n5 pk" cx="667" cy="399" rx="30" ry="20"/></g>
</g>
<g id="nodes-H0" transform="translate(-200.4,1208.4) scale(0.8)">
<g id="h0-1"><ellipse class="n5 pk" cx="598" cy="207" rx="30" ry="20"/></g>
<g id="h0-2"><ellipse class="n5 gr" cx="677" cy="240" rx="30" ry="20"/></g>
<g id="h0-3"><ellipse class="n5 ye" cx="519" cy="255" rx="30" ry="20"/></g>
<g id="h0-4"><ellipse class="n5 pu" cx="717" cy="311" rx="30" ry="20"/></g>
<g id="h0-5"><ellipse class="n5 bl" cx="499" cy="336" rx="30" ry="20"/></g>
<g id="h0-6"><ellipse class="n5 gr" cx="572" cy="402" rx="30" ry="20"/></g>
<g id="h0-7"><ellipse class="n5 pk" cx="667" cy="399" rx="30" ry="20"/></g>
</g>
<g id="nodes-H4" transform="translate(-200.4,1517.4) scale(0.8)">
<g id="h4-1"><ellipse class="n5 pk" cx="598" cy="207" rx="30" ry="20"/></g>
<g id="h4-2"><ellipse class="n5 gr" cx="677" cy="240" rx="30" ry="20"/></g>
<g id="h4-3"><ellipse class="n5 ye" cx="519" cy="255" rx="30" ry="20"/></g>
<g id="h4-4"><ellipse class="n5 pu" cx="717" cy="311" rx="30" ry="20"/></g>
<g id="h4-5"><ellipse class="n5 bl" cx="499" cy="336" rx="30" ry="20"/></g>
<g id="h4-6"><ellipse class="n5 gr" cx="572" cy="402" rx="30" ry="20"/></g>
<g id="h4-7"><ellipse class="n5 pk" cx="667" cy="399" rx="30" ry="20"/></g>
</g>
</g>
</svg>
